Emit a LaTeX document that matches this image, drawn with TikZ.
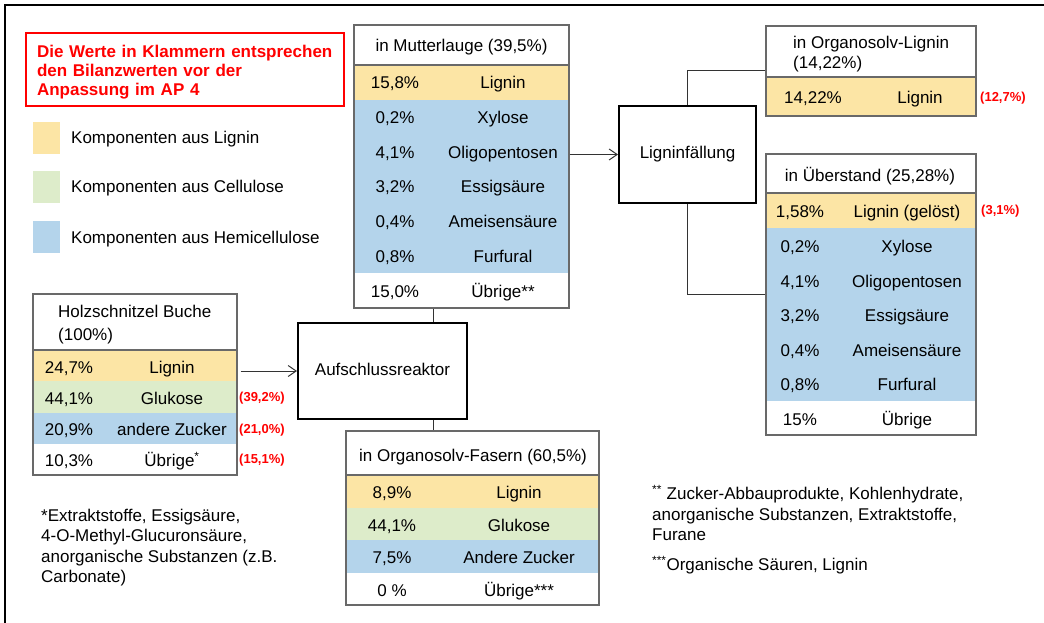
\documentclass[tikz,border=0pt]{standalone}
\usepackage{fontspec}
\setmainfont{Liberation Sans}
\usetikzlibrary{arrows.meta}

\definecolor{lig}{RGB}{252,229,165}
\definecolor{cel}{RGB}{221,236,202}
\definecolor{hemi}{RGB}{180,212,235}
\definecolor{rahmen}{RGB}{105,105,105}

\tikzset{
  txt/.style={inner sep=0pt, text height=12pt, text depth=3pt},
  kopf/.style={inner sep=0pt, align=left},
  note/.style={inner sep=0pt, anchor=west, align=left},
  cell/.style={fill=#1, inner sep=0pt},
  tab/.style={draw=rahmen, line width=1.2pt, inner sep=0pt},
  tabline/.style={draw=rahmen, line width=1.2pt},
  proc/.style={draw, line width=2pt, inner sep=0pt, text height=12pt, text depth=3pt},
  swatch/.style={fill=#1, inner sep=0pt, minimum width=27, minimum height=32},
  hinweis/.style={draw=red, line width=1.5pt, inner sep=0pt, minimum width=318, minimum height=73},
  hinweistext/.style={text=red, align=left, inner sep=0pt, text width=296pt,
    font=\fontsize{17}{19}\selectfont\bfseries},
  bilanz/.style={txt, anchor=west, text=red, font=\fontsize{13}{15}\selectfont\bfseries},
  conn/.style={draw=black!80, line width=1pt},
  pfeil/.style={conn, -{Straight Barb[length=8pt, width=11pt]}}
}

\begin{document}
\begin{tikzpicture}[x=1pt, y=-1pt, font=\fontsize{17}{20.5}\selectfont]
    \useasboundingbox (0,0) rectangle (1044,623);
    \draw[line width=2.2pt] (5,623) -- (5,5) -- (1044,5);

    % Hinweis und Legende
    \node[hinweis] (hinweis) at (185,69.5) {};
    \node[hinweistext] (hinweistext) at ([yshift=-3pt]hinweis.center) {Die Werte in Klammern entsprechen\\den Bilanzwerten vor der\\Anpassung im AP 4};
    \node[swatch=lig] (sw1) at (46.5,138) {};
    \node[swatch=cel] (sw2) at (46.5,186.5) {};
    \node[swatch=hemi] (sw3) at (46.5,237) {};
    \node[txt, anchor=west] (lg1) at (71,139.5) {Komponenten aus Lignin};
    \node[txt, anchor=west] (lg2) at (71,188.5) {Komponenten aus Cellulose};
    \node[txt, anchor=west] (lg3) at (71,238.5) {Komponenten aus Hemicellulose};

    % Holzschnitzel
    \foreach \pc/\nm/\col [count=\i] in {24{,}7\%/Lignin/lig, 44{,}1\%/Glukose/cel, 20{,}9\%/andere Zucker/hemi, 10{,}3\%/Übrige\textsuperscript{*}/white}
      \node[cell=\col, minimum width=204, minimum height=31.25] (hz\i) at (135,{350+31.25*(\i-0.5)}) {}
        node[txt] (hzp\i) at (69,{353+31.25*(\i-0.5)}) {\pc}
        node[txt] (hzn\i) at (172,{353+31.25*(\i-0.5)}) {\nm};
    \node[tab, minimum width=204, minimum height=181] (holz) at (135,384.5) {};
    \draw[tabline] (holz.west |- 0,350) -- (holz.east |- 0,350);
    \node[kopf, anchor=west] (holzkopf) at (58,325) {Holzschnitzel Buche\\[2.5pt](100\%)};

    % Mutterlauge
    \foreach \pc/\nm/\col [count=\i] in {15{,}8\%/Lignin/lig, 0{,}2\%/Xylose/hemi, 4{,}1\%/Oligopentosen/hemi, 3{,}2\%/Essigsäure/hemi, 0{,}4\%/Ameisensäure/hemi, 0{,}8\%/Furfural/hemi, 15{,}0\%/Übrige**/white}
      \node[cell=\col, minimum width=215, minimum height=34.7] (mu\i) at (461.5,{65+34.7*(\i-0.5)}) {}
        node[txt] (mup\i) at (395,{67+34.7*(\i-0.5)}) {\pc}
        node[txt] (mun\i) at (503,{67+34.7*(\i-0.5)}) {\nm};
    \node[tab, minimum width=215, minimum height=283] (mutter) at (461.5,166.5) {};
    \draw[tabline] (mutter.west |- 0,65) -- (mutter.east |- 0,65);
    \node[txt] (mutterkopf) at (461.5,47) {in Mutterlauge (39,5\%)};

    % Organosolv-Lignin
    \node[cell=lig, minimum width=210, minimum height=39] (ol1) at (871,96.5) {}
      node[txt] (olp1) at (813,99.5) {14,22\%}
      node[txt] (oln1) at (920,99.5) {Lignin};
    \node[tab, minimum width=210, minimum height=90] (orglig) at (871,71) {};
    \draw[tabline] (orglig.west |- 0,77) -- (orglig.east |- 0,77);
    \node[kopf, anchor=west] (orgligkopf) at (793,54) {in Organosolv-Lignin\\(14,22\%)};

    % Ueberstand
    \foreach \pc/\nm/\col [count=\i] in {1{,}58\%/Lignin (gelöst)/lig, 0{,}2\%/Xylose/hemi, 4{,}1\%/Oligopentosen/hemi, 3{,}2\%/Essigsäure/hemi, 0{,}4\%/Ameisensäure/hemi, 0{,}8\%/Furfural/hemi, 15\%/Übrige/white}
      \node[cell=\col, minimum width=210, minimum height=34.6] (ue\i) at (871,{193+34.6*(\i-0.5)}) {}
        node[txt] (uep\i) at (800,{196+34.6*(\i-0.5)}) {\pc}
        node[txt] (uen\i) at (907,{196+34.6*(\i-0.5)}) {\nm};
    \node[tab, minimum width=210, minimum height=281] (ueber) at (871,294.5) {};
    \draw[tabline] (ueber.west |- 0,193) -- (ueber.east |- 0,193);
    \node[txt] (ueberkopf) at (870,176.5) {in Überstand (25,28\%)};

    % Organosolv-Fasern
    \foreach \pc/\nm/\col [count=\i] in {8{,}9\%/Lignin/lig, 44{,}1\%/Glukose/cel, 7{,}5\%/Andere Zucker/hemi, 0 \%/Übrige***/white}
      \node[cell=\col, minimum width=253, minimum height=32.5] (fa\i) at (472.5,{475+32.5*(\i-0.5)}) {}
        node[txt] (fap\i) at (392,{478+32.5*(\i-0.5)}) {\pc}
        node[txt] (fan\i) at (519,{478+32.5*(\i-0.5)}) {\nm};
    \node[tab, minimum width=253, minimum height=174] (fasern) at (472.5,518) {};
    \draw[tabline] (fasern.west |- 0,475) -- (fasern.east |- 0,475);
    \node[txt] (fasernkopf) at (473,456.5) {in Organosolv-Fasern (60,5\%)};

    % Prozesse
    \node[proc, minimum width=137, minimum height=97] (faell) at (687.5,154.5) {Ligninfällung};
    \node[proc, minimum width=169, minimum height=96] (reaktor) at (382.5,371) {Aufschlussreaktor};

    % Bilanzwerte
    \node[bilanz] (bz1) at (239,397) {(39,2\%)};
    \node[bilanz] (bz2) at (239,429) {(21,0\%)};
    \node[bilanz] (bz3) at (239,459) {(15,1\%)};
    \node[bilanz] (bz4) at (980,97) {(12,7\%)};
    \node[bilanz] (bz5) at (981,210) {(3,1\%)};

    % Verbindungen
    \coordinate (stamm) at (433,0);
    \draw[pfeil] ([xshift=3pt]holz.east |- reaktor.west) -- (reaktor.west);
    \draw[pfeil] (mutter.east |- faell.west) -- (faell.west);
    \draw[conn] (mutter.south -| stamm) -- (reaktor.north -| stamm);
    \draw[conn] (reaktor.south -| stamm) -- (fasern.north -| stamm);
    \draw[conn] (faell.north) |- (orglig.west);
    \draw[conn] (faell.south) |- (ueber.west);

    % Fussnoten
    \node[note] (fn1) at (41,547.5) {*Extraktstoffe, Essigsäure,\\4-O-Methyl-Glucuronsäure,\\anorganische Substanzen (z.B.\\Carbonate)};
    \node[note] (fn2) at (652,513) {\textsuperscript{**} Zucker-Abbauprodukte, Kohlenhydrate,\\anorganische Substanzen, Extraktstoffe,\\Furane};
    \node[note] (fn3) at (652,565) {\textsuperscript{***}Organische Säuren, Lignin};
\end{tikzpicture}
\end{document}
